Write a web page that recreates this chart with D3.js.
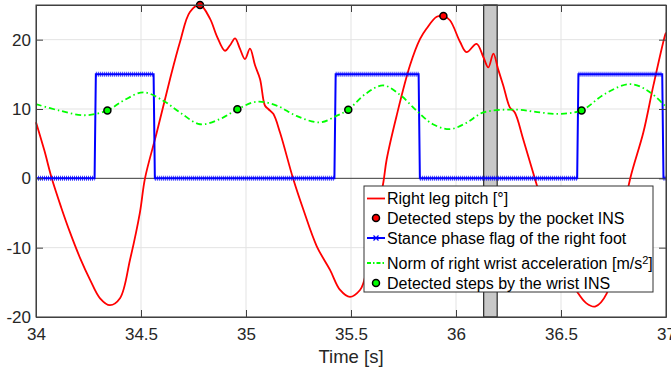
<!DOCTYPE html>
<html>
<head>
<meta charset="utf-8">
<script src="https://cdn.jsdelivr.net/npm/d3@7"></script>
<style>
  body { margin: 0; background: #fff; }
  svg { display: block; font-family: "Liberation Sans", Arial, sans-serif; }
</style>
</head>
<body>
<div id="chart"></div>
<script>
// time [s], right leg pitch [deg]
const legPitch = [
  [34.000, 8.1], [34.040, 4.0], [34.075, 0.0], [34.120, -4.2], [34.162, -7.8],
  [34.210, -11.5], [34.257, -14.6], [34.305, -17.3], [34.352, -18.3], [34.400, -17.3],
  [34.448, -11.7], [34.495, -4.9], [34.519, 0.0], [34.575, 6.6], [34.638, 14.3],
  [34.686, 19.7], [34.733, 24.0], [34.781, 25.0], [34.829, 23.0], [34.860, 20.6],
  [34.900, 18.4], [34.924, 19.2], [34.948, 20.2], [34.971, 18.7], [34.995, 17.2],
  [35.019, 18.7], [35.043, 16.3], [35.067, 14.3], [35.090, 10.5], [35.106, 10.0],
  [35.130, 9.3], [35.162, 6.6], [35.225, -0.1], [35.273, -4.5], [35.337, -9.8],
  [35.400, -13.2], [35.448, -16.1], [35.495, -17.1], [35.543, -16.1], [35.560, -15.0],
  [35.600, -9.0], [35.630, -4.3], [35.654, -0.6], [35.670, 2.75], [35.717, 9.0],
  [35.781, 16.3], [35.829, 20.1], [35.860, 21.6], [35.908, 23.3], [35.940, 23.4],
  [35.971, 22.8], [36.019, 19.7], [36.050, 18.2], [36.098, 19.4], [36.130, 17.5],
  [36.154, 16.0], [36.178, 18.0], [36.200, 15.8], [36.225, 13.4], [36.257, 10.2],
  [36.280, 9.5], [36.320, 5.65], [36.384, -0.9], [36.450, -7.5], [36.520, -13.0],
  [36.582, -16.6], [36.620, -18.0], [36.662, -18.5], [36.718, -16.6], [36.775, -8.5],
  [36.829, -0.1], [36.892, 6.6], [36.940, 13.4], [36.995, 20.6], [37.000, 21.0]
];

// steps detected by the pocket INS
const pocketSteps = [[34.781, 25.0], [35.940, 23.4]];

// stance phase flag of the right foot
const stanceFlag = [
  [34.000, 0], [34.279, 0], [34.285, 15], [34.560, 15], [34.566, 0],
  [35.421, 0], [35.427, 15], [35.822, 15], [35.828, 0],
  [36.577, 0], [36.583, 15], [36.982, 15], [36.988, 0], [37.000, 0]
];

// norm of right wrist acceleration [m/s^2]
const wristAcc = [
  [34.000, 10.7], [34.114, 9.75], [34.233, 9.1], [34.340, 9.8], [34.416, 11.2],
  [34.511, 12.4], [34.606, 11.2], [34.686, 9.5], [34.781, 7.8], [34.876, 8.55],
  [34.959, 9.95], [35.051, 11.05], [35.146, 10.5], [35.240, 9.0], [35.352, 8.07],
  [35.430, 9.0], [35.487, 9.9], [35.570, 12.2], [35.654, 13.4], [35.735, 12.0],
  [35.813, 9.75], [35.890, 7.8], [35.971, 7.1], [36.050, 8.0], [36.130, 9.5],
  [36.289, 9.9], [36.400, 9.5], [36.495, 9.3], [36.598, 9.8], [36.710, 12.2],
  [36.829, 13.6], [36.920, 12.5], [37.000, 10.3]
];

// steps detected by the wrist INS
const wristSteps = [[34.340, 9.8], [34.959, 9.95], [35.487, 9.9], [36.598, 9.8]];

// shaded interval
const shadedSpan = [36.132, 36.196];

const xTicks = [34, 34.5, 35, 35.5, 36, 36.5, 37];
const xTickLabels = ["34", "34.5", "35", "35.5", "36", "36.5", "37"];
const yTicks = [-20, -10, 0, 10, 20];
const yTickLabels = ["-20", "-10", "0", "10", "20"];

const legendLabels = [
  "Right leg pitch [°]",
  "Detected steps by the pocket INS",
  "Stance phase flag of the right foot",
  "Norm of right wrist acceleration [m/s",
  "Detected steps by the wrist INS"
];

const W = 671, H = 373;
const axisColor = "#404040";

const svg = d3.select("#chart").append("svg")
  .attr("width", W)
  .attr("height", H);

const x = d3.scaleLinear().domain([34, 37]).range([36, 666]);
const y = d3.scaleLinear().domain([-20, 25]).range([317, 5]);

// grid
const grid = svg.append("g").attr("stroke", "#e3e3e3").attr("stroke-width", 1);
grid.selectAll(".gx").data(xTicks).join("line")
  .attr("x1", d => x(d)).attr("x2", d => x(d))
  .attr("y1", y(25)).attr("y2", y(-20));
grid.selectAll(".gy").data(yTicks).join("line")
  .attr("x1", x(34)).attr("x2", x(37))
  .attr("y1", d => y(d)).attr("y2", d => y(d));

// shaded band
svg.append("rect")
  .attr("x", x(shadedSpan[0]))
  .attr("y", y(25))
  .attr("width", x(shadedSpan[1]) - x(shadedSpan[0]))
  .attr("height", y(-20) - y(25))
  .attr("fill", "#c8c8c8")
  .attr("stroke", "#000")
  .attr("stroke-width", 1);

// zero line
svg.append("line")
  .attr("x1", x(34)).attr("x2", x(37))
  .attr("y1", y(0)).attr("y2", y(0))
  .attr("stroke", axisColor).attr("stroke-width", 1);

const lineFn = d3.line().x(d => x(d[0])).y(d => y(d[1]));

// red pitch curve
svg.append("path")
  .datum(legPitch)
  .attr("fill", "none")
  .attr("stroke", "#ff0000")
  .attr("stroke-width", 1.8)
  .attr("d", lineFn.curve(d3.curveCatmullRom.alpha(0.5)));

svg.selectAll(".pocket").data(pocketSteps).join("circle")
  .attr("cx", d => x(d[0])).attr("cy", d => y(d[1]))
  .attr("r", 3.5)
  .attr("fill", "#ff0000").attr("stroke", "#000").attr("stroke-width", 1.5);

// blue stance flag
svg.append("path")
  .datum(stanceFlag)
  .attr("fill", "none")
  .attr("stroke", "#0000ff")
  .attr("stroke-width", 2)
  .attr("d", d3.line().x(d => x(d[0])).y(d => y(d[1]))(stanceFlag));

// x markers on the flat runs (dense samples)
const runs = [];
for (let i = 1; i < stanceFlag.length; i++) {
  if (stanceFlag[i][1] === stanceFlag[i - 1][1]) runs.push([stanceFlag[i - 1], stanceFlag[i]]);
}
svg.selectAll(".run").data(runs).join("line")
  .attr("x1", d => x(d[0][0])).attr("x2", d => x(d[1][0]))
  .attr("y1", d => y(d[0][1])).attr("y2", d => y(d[1][1]))
  .attr("stroke", "#0000ff")
  .attr("stroke-width", 5)
  .attr("stroke-dasharray", "1 1")
  .attr("opacity", 0.75);

// green wrist acceleration
svg.append("path")
  .datum(wristAcc)
  .attr("fill", "none")
  .attr("stroke", "#00ff00")
  .attr("stroke-width", 1.8)
  .attr("stroke-dasharray", "6 3 1.5 3")
  .attr("d", d3.line().x(d => x(d[0])).y(d => y(d[1])).curve(d3.curveCatmullRom.alpha(0.5))(wristAcc));

svg.selectAll(".wrist").data(wristSteps).join("circle")
  .attr("cx", d => x(d[0])).attr("cy", d => y(d[1]))
  .attr("r", 3.5)
  .attr("fill", "#00ff00").attr("stroke", "#000").attr("stroke-width", 1.5);

// axes
const xAxis = svg.append("g")
  .attr("transform", `translate(0,${y(-20)})`)
  .call(d3.axisBottom(x).tickValues(xTicks).tickFormat((d, i) => xTickLabels[i])
    .tickSize(-7).tickSizeOuter(0).tickPadding(11));
svg.append("g")
  .attr("transform", `translate(0,${y(25)})`)
  .call(d3.axisTop(x).tickValues(xTicks).tickFormat("").tickSize(-7).tickSizeOuter(0));
const yAxis = svg.append("g")
  .attr("transform", `translate(${x(34)},0)`)
  .call(d3.axisLeft(y).tickValues(yTicks).tickFormat((d, i) => yTickLabels[i])
    .tickSize(-7).tickSizeOuter(0).tickPadding(5));
svg.append("g")
  .attr("transform", `translate(${x(37)},0)`)
  .call(d3.axisRight(y).tickValues(yTicks).tickFormat("").tickSize(-7).tickSizeOuter(0));

svg.selectAll(".tick line").attr("stroke", axisColor);
svg.selectAll(".domain").attr("stroke", axisColor);
svg.selectAll(".tick text").attr("font-size", 17).attr("fill", "#262626")
  .attr("font-family", "Liberation Sans, Arial, sans-serif");

svg.append("rect")
  .attr("x", x(34)).attr("y", y(25))
  .attr("width", x(37) - x(34)).attr("height", y(-20) - y(25))
  .attr("fill", "none").attr("stroke", axisColor).attr("stroke-width", 1);

svg.append("text")
  .attr("x", (x(34) + x(37)) / 2)
  .attr("y", 363)
  .attr("text-anchor", "middle")
  .attr("font-size", 18.5)
  .attr("fill", "#262626")
  .text("Time [s]");

// legend
const lg = svg.append("g");
lg.append("rect")
  .attr("x", 364).attr("y", 186)
  .attr("width", 289).attr("height", 106)
  .attr("fill", "#fff").attr("stroke", "#333").attr("stroke-width", 1);

const rowY = [198.5, 218, 238, 263, 283];
const symX0 = 367, symX1 = 385, symXc = 376, textX = 387;

lg.append("line").attr("x1", symX0).attr("x2", symX1).attr("y1", rowY[0]).attr("y2", rowY[0])
  .attr("stroke", "#ff0000").attr("stroke-width", 1.8);
lg.append("circle").attr("cx", symXc).attr("cy", rowY[1]).attr("r", 3.5)
  .attr("fill", "#ff0000").attr("stroke", "#000").attr("stroke-width", 1.5);
lg.append("line").attr("x1", symX0).attr("x2", symX1).attr("y1", rowY[2]).attr("y2", rowY[2])
  .attr("stroke", "#0000ff").attr("stroke-width", 2);
lg.append("path")
  .attr("d", `M${symXc - 2.5},${rowY[2] - 2.5}L${symXc + 2.5},${rowY[2] + 2.5}M${symXc - 2.5},${rowY[2] + 2.5}L${symXc + 2.5},${rowY[2] - 2.5}`)
  .attr("stroke", "#0000ff").attr("stroke-width", 1.2);
lg.append("line").attr("x1", symX0).attr("x2", symX1).attr("y1", rowY[3]).attr("y2", rowY[3])
  .attr("stroke", "#00ff00").attr("stroke-width", 1.8).attr("stroke-dasharray", "4 2 1.5 2");
lg.append("circle").attr("cx", symXc).attr("cy", rowY[4]).attr("r", 3.5)
  .attr("fill", "#00ff00").attr("stroke", "#000").attr("stroke-width", 1.5);

const labels = lg.selectAll(".lab").data(legendLabels).join("text")
  .attr("x", textX)
  .attr("y", (d, i) => rowY[i])
  .attr("dy", "0.36em")
  .attr("font-size", 16)
  .attr("fill", "#000")
  .text(d => d);
labels.filter((d, i) => i === 3).each(function () {
  const t = d3.select(this);
  t.append("tspan").attr("dy", "-0.45em").attr("font-size", 11).text("2");
  t.append("tspan").attr("dy", "0.3em").text("]");
});
</script>
</body>
</html>
